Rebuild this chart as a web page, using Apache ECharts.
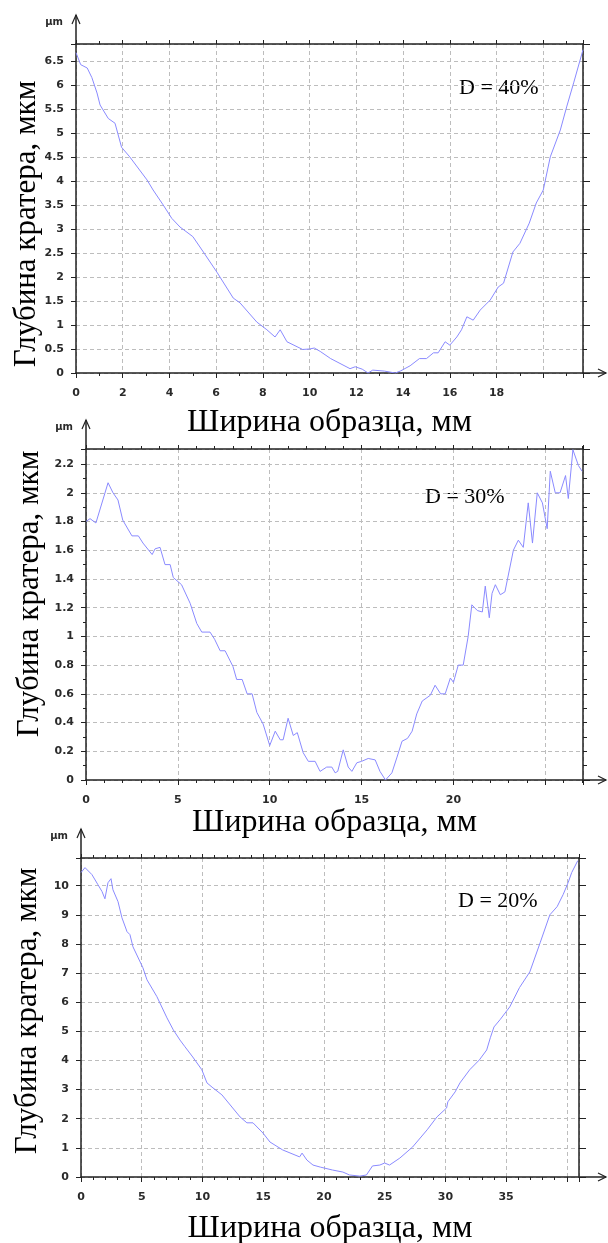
<!DOCTYPE html>
<html>
<head>
<meta charset="utf-8">
<script src="https://cdn.jsdelivr.net/npm/echarts@6/dist/echarts.min.js"></script>
<style>
  html, body { margin: 0; padding: 0; background: #fff; }
  #chart { width: 608px; height: 1243px; }
</style>
</head>
<body>
<div id="chart"></div>
<script>
// Crater depth profiles across the sample width, three fill levels D

const labelsD = ['D = 40%', 'D = 30%', 'D = 20%'];

const xTitle = 'Ширина образца, мм';
const yTitle = 'Глубина кратера, мкм';
const yUnit = 'μm';

// D = 40 %
const x40 = [0, 0.2, 0.48, 0.68, 0.9, 1.03, 1.38, 1.67, 1.75, 1.95, 2.3, 3.04, 3.3, 3.73, 4.1, 4.45, 5.0, 5.45, 6.03, 6.73, 7.02, 7.74, 8.17, 8.52, 8.74, 9.03, 9.7, 10.0, 10.2, 10.45, 10.9, 11.73, 11.95, 12.25, 12.5, 12.7, 13.2, 13.66, 13.88, 14.3, 14.7, 15.0, 15.3, 15.5, 15.8, 16.0, 16.3, 16.5, 16.73, 17.0, 17.3, 17.73, 18.07, 18.3, 18.7, 19.0, 19.4, 19.7, 20.0, 20.3, 20.73, 21.0, 21.3, 21.7];
const y40 = [6.67, 6.42, 6.35, 6.15, 5.83, 5.58, 5.3, 5.2, 5.17, 4.7, 4.5, 4.02, 3.81, 3.5, 3.22, 3.04, 2.84, 2.52, 2.1, 1.56, 1.46, 1.06, 0.9, 0.75, 0.9, 0.65, 0.49, 0.5, 0.52, 0.45, 0.3, 0.09, 0.13, 0.08, 0.0, 0.06, 0.04, 0.0, 0.04, 0.15, 0.3, 0.3, 0.42, 0.42, 0.65, 0.58, 0.75, 0.9, 1.17, 1.1, 1.31, 1.52, 1.79, 1.87, 2.52, 2.7, 3.12, 3.54, 3.81, 4.5, 5.06, 5.54, 6.04, 6.73];

// D = 30 %
const x30 = [0, 0.22, 0.54, 1.2, 1.47, 1.74, 2.0, 2.5, 2.85, 3.1, 3.6, 3.76, 4.03, 4.3, 4.58, 4.75, 5.2, 5.67, 6.03, 6.3, 6.75, 7.0, 7.3, 7.57, 8.0, 8.2, 8.5, 8.77, 9.04, 9.3, 9.64, 10.0, 10.3, 10.57, 10.73, 11.0, 11.28, 11.5, 11.82, 12.1, 12.47, 12.74, 13.1, 13.38, 13.56, 13.7, 14.0, 14.27, 14.47, 14.74, 15.0, 15.36, 15.74, 16.0, 16.3, 16.65, 16.93, 17.2, 17.5, 17.75, 18.0, 18.3, 18.74, 19.0, 19.3, 19.55, 19.83, 20.0, 20.26, 20.53, 20.8, 21.0, 21.3, 21.57, 21.73, 21.95, 22.1, 22.28, 22.55, 22.8, 23.26, 23.53, 23.8, 24.07, 24.3, 24.56, 24.84, 25.1, 25.27, 25.54, 25.8, 26.1, 26.25, 26.5, 26.8, 27.0];
const y30 = [1.8, 1.82, 1.79, 2.07, 2.0, 1.95, 1.81, 1.7, 1.7, 1.65, 1.57, 1.61, 1.62, 1.5, 1.5, 1.41, 1.36, 1.23, 1.09, 1.03, 1.03, 0.98, 0.9, 0.9, 0.79, 0.7, 0.7, 0.6, 0.6, 0.47, 0.39, 0.24, 0.34, 0.28, 0.28, 0.43, 0.31, 0.33, 0.19, 0.13, 0.13, 0.06, 0.09, 0.09, 0.05, 0.06, 0.21, 0.09, 0.06, 0.12, 0.13, 0.15, 0.14, 0.06, 0.0, 0.05, 0.16, 0.27, 0.29, 0.34, 0.46, 0.55, 0.59, 0.66, 0.6, 0.6, 0.71, 0.68, 0.8, 0.8, 1.0, 1.22, 1.18, 1.17, 1.35, 1.13, 1.3, 1.36, 1.29, 1.31, 1.6, 1.67, 1.62, 1.93, 1.65, 2.0, 1.93, 1.75, 2.15, 2.0, 2.0, 2.12, 1.96, 2.3, 2.19, 2.15];

// D = 20 %
const x20 = [0, 0.33, 0.9, 1.4, 1.73, 1.97, 2.22, 2.47, 2.63, 3.05, 3.37, 3.79, 4.03, 4.28, 5.1, 5.43, 6.25, 7.08, 7.6, 8.15, 8.56, 9.2, 9.95, 10.37, 10.86, 11.6, 13.1, 13.66, 14.16, 14.98, 15.56, 16.6, 18.0, 18.2, 18.6, 19.1, 19.7, 20.7, 21.56, 22.1, 22.96, 23.5, 24.0, 24.6, 25.0, 25.4, 26.25, 27.3, 28.5, 29.3, 30.1, 30.2, 30.8, 31.2, 32.0, 32.8, 33.4, 33.7, 34.0, 34.5, 35.3, 36.1, 36.95, 37.8, 38.6, 39.2, 39.7, 40.1, 40.4, 40.9];
const y20 = [10.45, 10.62, 10.38, 10.03, 9.8, 9.55, 10.1, 10.24, 9.86, 9.45, 8.9, 8.42, 8.32, 7.9, 7.18, 6.77, 6.19, 5.46, 5.05, 4.7, 4.47, 4.12, 3.68, 3.23, 3.06, 2.82, 2.06, 1.86, 1.86, 1.51, 1.2, 0.93, 0.69, 0.82, 0.58, 0.41, 0.34, 0.24, 0.17, 0.07, 0.03, 0.07, 0.38, 0.41, 0.48, 0.41, 0.65, 1.03, 1.62, 2.06, 2.37, 2.58, 2.92, 3.23, 3.68, 4.02, 4.36, 4.78, 5.15, 5.4, 5.84, 6.5, 7.04, 8.04, 9.0, 9.28, 9.7, 10.1, 10.45, 10.86];

// Axis ranges and tick steps per panel
const xMax = [21.7, 27.05, 41.0];
const yMax = [6.85, 2.305, 10.95];
const xStep = [2, 5, 5];
const yStep = [0.5, 0.2, 1];
const xLastLabel = [18, 20, 35];
const yLastLabel = [6.5, 2.2, 10];

const seriesX = [x40, x30, x20];
const seriesY = [y40, y30, y20];

// Panel layout
const W = 608;
const panels = [
  { left: 76, top: 44, right: 25, height: 329, xGap: 34, yTitleX: 27, yTitleY: 224, labelX: 459, labelY: 88 },
  { left: 86, top: 449, right: 25, height: 331, xGap: 26, yTitleX: 30, yTitleY: 594, labelX: 425, labelY: 497 },
  { left: 81, top: 858, right: 29, height: 319, xGap: 36, yTitleX: 28, yTitleY: 1011, labelX: 458, labelY: 901 }
];

const AX = '#222';
const tickFont = { fontFamily: 'DejaVu Sans', fontSize: 11, fontWeight: 'bold', color: '#2a2a2a' };
const titleFont = { fontFamily: 'Liberation Serif', fontSize: 32, color: '#000' };
const gridLine = { show: true, lineStyle: { color: '#bdbdbd', type: [4, 3], width: 1 } };

const grid = [], xAxis = [], yAxis = [], series = [], graphic = [];

panels.forEach((p, i) => {
  grid.push({ left: p.left, top: p.top, right: p.right, height: p.height, containLabel: false, outerBoundsMode: 'none' });
  const common = { type: 'value', gridIndex: i, min: 0 };
  // bottom axis with labels
  xAxis.push(Object.assign({}, common, {
    max: xMax[i], interval: xStep[i], position: 'bottom',
    axisLine: { show: true, onZero: false, lineStyle: { color: AX, width: 1.5 } },
    axisTick: { show: true, length: 5, lineStyle: { color: AX } },
    minorTick: { show: true, splitNumber: xStep[i], length: 3, lineStyle: { color: AX } },
    axisLabel: Object.assign({ margin: 15, formatter: v => (v > xLastLabel[i] + 1e-9 ? '' : String(v)) }, tickFont),
    splitLine: gridLine,
    name: xTitle, nameLocation: 'middle', nameGap: p.xGap, nameTextStyle: titleFont
  }));
  // top frame axis
  xAxis.push(Object.assign({}, common, {
    max: xMax[i], interval: xStep[i], position: 'top',
    axisLine: { show: true, onZero: false, lineStyle: { color: AX, width: 1.5 } },
    axisTick: { show: true, length: 4, lineStyle: { color: AX } },
    minorTick: { show: true, splitNumber: xStep[i], length: 3, lineStyle: { color: AX } },
    axisLabel: { show: false }, splitLine: { show: false }
  }));
  // left axis with labels
  yAxis.push(Object.assign({}, common, {
    max: yMax[i], interval: yStep[i], position: 'left',
    axisLine: { show: true, onZero: false, lineStyle: { color: AX, width: 1.5 } },
    axisTick: { show: true, length: 5, lineStyle: { color: AX } },
    minorTick: { show: i === 1, splitNumber: 2, length: 3, lineStyle: { color: AX } },
    axisLabel: Object.assign({ margin: 12, formatter: v => (v > yLastLabel[i] + 1e-9 ? '' : String(+v.toFixed(2))) }, tickFont),
    splitLine: gridLine
  }));
  // right frame axis
  yAxis.push(Object.assign({}, common, {
    max: yMax[i], interval: 1, position: 'right',
    axisLine: { show: true, onZero: false, lineStyle: { color: AX, width: 1.5 } },
    axisTick: { show: true, length: 7, lineStyle: { color: AX } },
    minorTick: { show: i !== 2, splitNumber: i === 0 ? 2 : 10, length: 4, lineStyle: { color: AX } },
    axisLabel: { show: false }, splitLine: { show: false }
  }));

  series.push({
    type: 'line', xAxisIndex: 2 * i, yAxisIndex: 2 * i,
    data: seriesX[i].map((x, k) => [x, seriesY[i][k]]),
    showSymbol: false, symbol: 'none', smooth: false,
    lineStyle: { color: '#8a8aff', width: 1 },
    silent: true, animation: false
  });

  // axis arrows beyond the frame
  const bottom = p.top + p.height;
  const rightX = W - p.right;
  const tip = p.top - 29;
  graphic.push({ type: 'line', shape: { x1: p.left, y1: p.top, x2: p.left, y2: tip }, style: { stroke: AX, lineWidth: 1.5 } });
  graphic.push({ type: 'polyline', shape: { points: [[p.left - 4, tip + 9], [p.left, tip], [p.left + 4, tip + 9]] }, style: { stroke: AX, lineWidth: 1.2, fill: null } });
  graphic.push({ type: 'line', shape: { x1: rightX, y1: bottom, x2: W - 2, y2: bottom }, style: { stroke: AX, lineWidth: 1.5 } });
  graphic.push({ type: 'polyline', shape: { points: [[W - 10, bottom - 4], [W - 2, bottom], [W - 10, bottom + 4]] }, style: { stroke: AX, lineWidth: 1.2, fill: null } });
  // unit label above the vertical axis
  graphic.push({ type: 'text', x: p.left - 13, y: tip + 7, style: { text: yUnit, fontFamily: 'DejaVu Sans', fontSize: 10, fontWeight: 'bold', fill: '#2a2a2a', textAlign: 'right', textVerticalAlign: 'middle' } });
  // vertical axis title
  graphic.push({ type: 'text', x: p.yTitleX, y: p.yTitleY, rotation: Math.PI / 2, style: { text: yTitle, fontFamily: 'Liberation Serif', fontSize: 31, fill: '#000', textAlign: 'center', textVerticalAlign: 'middle' } });
  // fill level caption
  graphic.push({ type: 'text', x: p.labelX, y: p.labelY, style: { text: labelsD[i], fontFamily: 'Liberation Serif', fontSize: 22, fill: '#000', textAlign: 'left', textVerticalAlign: 'middle' } });
});

const chart = echarts.init(document.getElementById('chart'));
chart.setOption({ animation: false, grid, xAxis, yAxis, series, graphic });
</script>
</body>
</html>
